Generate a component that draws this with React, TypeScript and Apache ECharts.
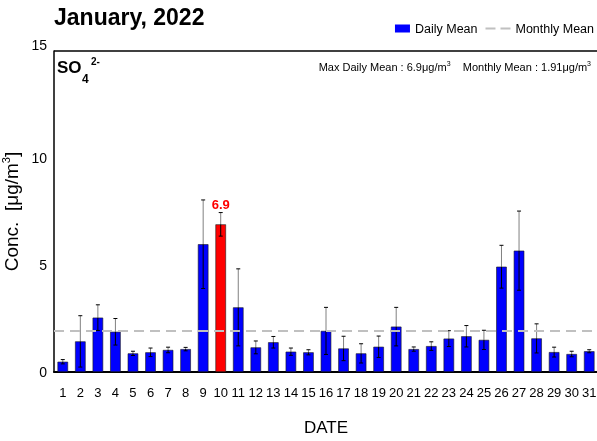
import React, { useEffect, useRef } from "react";
import * as echarts from "echarts";

const days = ["1","2","3","4","5","6","7","8","9","10","11","12","13","14","15","16","17","18","19","20","21","22","23","24","25","26","27","28","29","30","31"];
const dailyMean = [0.48,1.43,2.54,1.88,0.87,0.92,1.03,1.07,5.97,6.9,3.02,1.15,1.39,0.95,0.92,1.92,1.1,0.87,1.18,2.12,1.07,1.21,1.56,1.67,1.5,4.92,5.67,1.57,0.93,0.84,0.97];
const dailyErr = [0.1,1.2,0.6,0.62,0.1,0.2,0.13,0.08,2.07,0.55,1.8,0.3,0.27,0.17,0.12,1.1,0.57,0.45,0.5,0.9,0.1,0.2,0.37,0.5,0.45,1.0,1.85,0.68,0.23,0.13,0.07];
const monthlyMean = 1.91;
const maxDay = 9; // index of the max daily mean (day 10)
const yTicks = [0, 5, 10, 15];

const SANS = "'Liberation Sans', Arial, sans-serif";

export default function App() {
  const ref = useRef<HTMLDivElement>(null);
  useEffect(() => {
    document.body.style.margin = "0";
    const chart = echarts.init(ref.current!, undefined, { renderer: "svg" });
    const barData = dailyMean.map((v, i) =>
      i === maxDay
        ? {
            value: v,
            itemStyle: { color: "#ff0000" },
            label: {
              show: true,
              position: "top",
              distance: 13,
              formatter: String(v),
              color: "#ff0000",
              fontWeight: "bold",
              fontSize: 13,
              fontFamily: SANS,
            },
          }
        : v
    );
    const errData = dailyMean.map((v, i) => [i, v - dailyErr[i], v, v + dailyErr[i]]);
    const top = yTicks[yTicks.length - 1];
    chart.setOption({
      animation: false,
      textStyle: { fontFamily: SANS },
      title: {
        text: "January, 2022",
        left: 49,
        top: 0,
        textStyle: { fontSize: 23, fontWeight: "bold", color: "#000", fontFamily: SANS },
      },
      legend: {
        right: 3,
        top: 22,
        padding: 0,
        itemWidth: 25,
        itemHeight: 8,
        itemGap: 8,
        textStyle: { fontSize: 12.5, color: "#000", fontFamily: SANS },
        data: [
          {
            name: "Daily Mean",
            icon: "path://M0,0L0,8M10,0H25V8H10Z",
            itemStyle: { color: "#0000ff", borderWidth: 0 },
          },
          {
            name: "Monthly Mean",
            icon: "path://M0,0L0,8M0,3H10V5H0ZM15,3H25V5H15Z",
            itemStyle: { color: "#c0c0c0", borderWidth: 0 },
          },
        ],
      },
      grid: { left: 54, right: -1, top: 51, bottom: 69, containLabel: false, outerBoundsMode: "none" },
      xAxis: {
        type: "category",
        data: days,
        name: "DATE",
        nameLocation: "middle",
        nameGap: 47,
        nameTextStyle: { fontSize: 17, color: "#000", fontFamily: SANS },
        axisLine: { lineStyle: { color: "#000", width: 2 } },
        axisTick: { show: false },
        axisLabel: { color: "#000", fontSize: 13, margin: 14, interval: 0, fontFamily: SANS },
      },
      yAxis: {
        type: "value",
        min: yTicks[0],
        max: top,
        interval: 5,
        name: "{a|Conc.  [μg/m}{s|3}{a|]}",
        nameLocation: "middle",
        nameGap: 21,
        nameRotate: 90,
        nameTextStyle: {
          rich: {
            a: { fontSize: 19, color: "#000", fontFamily: SANS, lineHeight: 22 },
            s: { fontSize: 11, color: "#000", fontFamily: SANS, verticalAlign: "top", lineHeight: 22 },
          },
        },
        axisLine: { show: true, lineStyle: { color: "#000", width: 1.5 } },
        axisTick: { show: false },
        splitLine: { show: false },
        axisLabel: {
          color: "#000",
          fontSize: 14,
          margin: 7,
          fontFamily: SANS,
          formatter: (v: number) => (v === top ? "{t|" + v + "}" : String(v)),
          rich: { t: { fontSize: 14, color: "#000", fontFamily: SANS, padding: [0, 0, 12, 0] } },
        },
      },
      graphic: [
        { type: "line", shape: { x1: 54, y1: 51, x2: 597, y2: 51 }, style: { stroke: "#000", lineWidth: 1.5 } },
        { type: "text", left: 57, top: 59, style: { text: "SO", fontSize: 17, fontWeight: "bold", fill: "#000", fontFamily: SANS } },
        { type: "text", left: 82, top: 73, style: { text: "4", fontSize: 12, fontWeight: "bold", fill: "#000", fontFamily: SANS } },
        { type: "text", left: 91, top: 56, style: { text: "2-", fontSize: 10, fontWeight: "bold", fill: "#000", fontFamily: SANS } },
        {
          type: "text",
          right: 6,
          top: 60,
          style: {
            text: "{n|Max Daily Mean : 6.9μg/m}{s|3}{n|    Monthly Mean : 1.91μg/m}{s|3}",
            rich: {
              n: { fontSize: 11, fill: "#000", fontFamily: SANS, lineHeight: 14 },
              s: { fontSize: 7, fill: "#000", fontFamily: SANS, verticalAlign: "top", lineHeight: 14 },
            },
          },
        },
      ],
      series: [
        {
          name: "Daily Mean",
          type: "bar",
          data: barData,
          barWidth: "60%",
          itemStyle: { color: "#0000ff", borderColor: "#1a1a1a", borderWidth: 0.6 },
          z: 2,
        },
        {
          name: "Monthly Mean",
          type: "line",
          data: [],
          symbol: "none",
          lineStyle: { color: "#c0c0c0", width: 2, type: [10, 6] },
          itemStyle: { color: "#c0c0c0" },
          markLine: {
            silent: true,
            symbol: "none",
            label: { show: false },
            lineStyle: { color: "#c0c0c0", width: 2, type: [10, 6] },
            data: [{ yAxis: monthlyMean }],
          },
          z: 1,
        },
        {
          name: "err",
          type: "custom",
          data: errData,
          z: 3,
          renderItem: (params: any, api: any) => {
            const x = api.value(0);
            const lo = api.coord([x, api.value(1)]);
            const mid = api.coord([x, api.value(2)]);
            const hi = api.coord([x, api.value(3)]);
            const c = 2;
            return {
              type: "group",
              children: [
                { type: "line", shape: { x1: mid[0], y1: mid[1], x2: hi[0], y2: hi[1] }, style: { stroke: "#808080", lineWidth: 1 } },
                { type: "line", shape: { x1: lo[0], y1: lo[1], x2: mid[0], y2: mid[1] }, style: { stroke: "#000", lineWidth: 1 } },
                { type: "line", shape: { x1: hi[0] - c, y1: hi[1], x2: hi[0] + c, y2: hi[1] }, style: { stroke: "#000", lineWidth: 1 } },
                { type: "line", shape: { x1: lo[0] - c, y1: lo[1], x2: lo[0] + c, y2: lo[1] }, style: { stroke: "#000", lineWidth: 1 } },
              ],
            };
          },
        },
      ],
    });
    return () => chart.dispose();
  }, []);
  return <div ref={ref} style={{ position: "fixed", left: 0, top: 0, width: 597, height: 441 }} />;
}
